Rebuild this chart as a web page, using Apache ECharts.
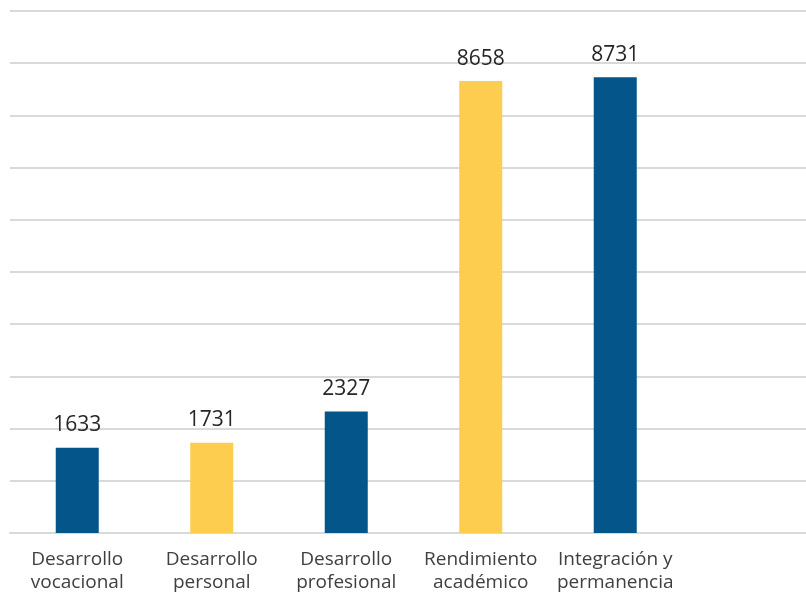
<!DOCTYPE html>
<html>
<head>
<meta charset="utf-8">
<script src="https://cdn.jsdelivr.net/npm/echarts@6/dist/echarts.min.js"></script>
<style>html,body{margin:0;padding:0;background:#fff;overflow:hidden;}#c{width:817px;height:594px;}</style>
</head>
<body>
<div id="c"></div>
<script>
const categories = ['Desarrollo\nvocacional', 'Desarrollo\npersonal', 'Desarrollo\nprofesional', 'Rendimiento\nacadémico', 'Integración y\npermanencia', ''];
const values = [1633, 1731, 2327, 8658, 8731, null];
const barColors = ['#03558A', '#FDCD4F', '#03558A', '#FDCD4F', '#03558A', '#03558A'];
const yTicks = {min: 0, max: 10000, interval: 1000};

const chart = echarts.init(document.getElementById('c'), null, {renderer: 'canvas'});
chart.setOption({
  animation: false,
  grid: {left: 10, top: 11, right: 0, bottom: 61, containLabel: false},
  xAxis: {
    type: 'category',
    data: categories,
    axisTick: {show: false},
    axisLine: {show: true, lineStyle: {color: '#d9d9d9', width: 2}},
    axisLabel: {
      interval: 0, margin: 15, color: '#404040',
      fontFamily: 'Open Sans', fontSize: 19, lineHeight: 23
    }
  },
  yAxis: {
    type: 'value', min: yTicks.min, max: yTicks.max, interval: yTicks.interval,
    axisLabel: {show: false}, axisLine: {show: false}, axisTick: {show: false},
    splitLine: {show: true, lineStyle: {color: '#d9d9d9', width: 2}}
  },
  series: [{
    type: 'bar',
    barWidth: 43,
    data: values.map((v, i) => ({value: v, itemStyle: {color: barColors[i]}})),
    label: {
      show: true, position: 'top', distance: 12,
      color: '#262626', fontFamily: 'Open Sans', fontSize: 21
    }
  }]
});
</script>
</body>
</html>
